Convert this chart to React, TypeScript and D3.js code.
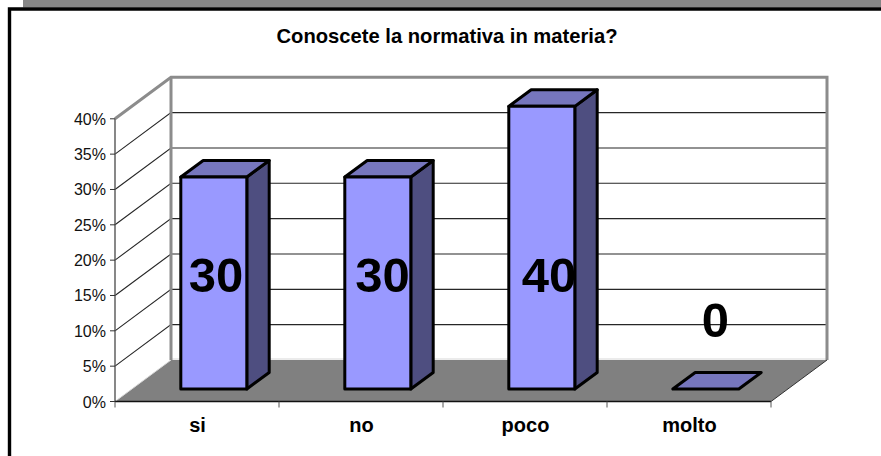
import React from "react";
import * as d3 from "d3";

const categories = ["si", "no", "poco", "molto"];
const values = [30, 30, 40, 0];
const ticks = [0, 5, 10, 15, 20, 25, 30, 35, 40];
const title = "Conoscete la normativa in materia?";

const FONT = "'Liberation Sans', Arial, sans-serif";
const x = d3.scaleBand<string>().domain(categories).range([115, 771]);
const labelX = d3.scalePoint<string>().domain(categories).range([216, 715.5]);
const y = d3.scaleLinear().domain([0, 40]).range([401.5, 118.8]);
const depth = { dx: 56, dy: -41.5 };
const barNear = 0.3;
const barFar = 0.7;
const barW = 66;
const line = d3.line<[number, number]>();

const at = (px: number, py: number, d: number): [number, number] => [px + depth.dx * d, py + depth.dy * d];

export default function App() {
  const x0 = x.range()[0];
  const x1 = x.range()[1];
  const y0 = y(0);
  const y40 = y(40);
  const floor = [at(x0, y0, 0), at(x1, y0, 0), at(x1, y0, 1), at(x0, y0, 1)] as [number, number][];
  return (
    <svg width={881} height={456} style={{ position: "absolute", left: 0, top: 0, display: "block", fontFamily: FONT }}>
      <rect width={881} height={456} fill="#fff" />
      <rect x={23} y={0} width={858} height={7.5} fill="#868686" />
      <path d="M9.5,456 V9 H881" fill="none" stroke="#000" strokeWidth={3.4} />
      <text x={447} y={43} textAnchor="middle" fontSize={20.2} fontWeight={700} fill="#000">{title}</text>

      {/* walls */}
      {ticks.slice(1).map((t) => {
        const a = at(x0, y(t), 0);
        const b = at(x0, y(t), 1);
        const c = at(x1, y(t), 1);
        return t === 40 ? null : (
          <path key={t} d={line([a, b, c]) ?? ""} fill="none" stroke="#000" strokeWidth={1.1} opacity={0.85} />
        );
      })}
      <path d={line(floor) ?? ""} fill="#808080" />
      <path d={line([at(x0, y0, 1), at(x1, y0, 1)]) ?? ""} stroke="#d8d8d8" strokeWidth={1.2} fill="none" transform="translate(0,-1)" />
      <path d={line([at(x0, y0, 0), at(x0, y0, 1)]) ?? ""} stroke="#d8d8d8" strokeWidth={1} fill="none" />
      <path
        d={line([at(x0, y40, 0), at(x0, y40, 1), at(x1, y40, 1), at(x1, y0, 1)]) ?? ""}
        fill="none"
        stroke="#8c8c8c"
        strokeWidth={3}
        strokeLinejoin="miter"
      />
      <path d={line([at(x0, y40, 1), at(x0, y0, 1)]) ?? ""} stroke="#8c8c8c" strokeWidth={3} fill="none" />
      <path d={line([at(x0, y0, 0), at(x0, y40, 0)]) ?? ""} stroke="#555" strokeWidth={1.4} fill="none" />
      <path d={line([at(x1, y0, 0), at(x1, y0, 1)]) ?? ""} stroke="#333" strokeWidth={1} fill="none" />

      {/* axes */}
      <path d={line([at(x0, y0, 0), at(x1, y0, 0)]) ?? ""} stroke="#111" strokeWidth={1.3} fill="none" />
      {ticks.map((t) => (
        <g key={t}>
          <path d={`M${x0 - 5},${y(t)}H${x0}`} stroke="#333" strokeWidth={1} />
          <text x={106} y={y(t) + 6} textAnchor="end" fontSize={16} fill="#111">{t}%</text>
        </g>
      ))}
      {[...categories.map((c) => x(c) as number), x1].map((tx) => (
        <path key={tx} d={`M${tx},${y0}V${y0 + 6}`} stroke="#555" strokeWidth={1} />
      ))}
      {categories.map((c) => (
        <text key={c} x={(x(c) as number) + x.bandwidth() / 2 + 0.5} y={432} textAnchor="middle" fontSize={20} fontWeight={700} fill="#000">{c}</text>
      ))}

      {/* bars */}
      {categories.map((c, i) => {
        const v = values[i];
        const mid = (x(c) as number) + x.bandwidth() / 2;
        const lx = mid - barW / 2;
        const rx = mid + barW / 2;
        const h = y(v) - y0;
        const p = (px: number, d: number, top: boolean) => at(px, y0 + (top ? h : 0), d);
        const front = [p(lx, barNear, false), p(rx, barNear, false), p(rx, barNear, true), p(lx, barNear, true)];
        const side = [p(rx, barNear, false), p(rx, barFar, false), p(rx, barFar, true), p(rx, barNear, true)];
        const topFace = [p(lx, barNear, true), p(rx, barNear, true), p(rx, barFar, true), p(lx, barFar, true)];
        const stroke = { stroke: "#000", strokeWidth: 3, strokeLinejoin: "round" as const };
        return (
          <g key={c}>
            {v > 0 && <path d={(line(side) ?? "") + "Z"} fill="#4e4e80" {...stroke} />}
            <path d={(line(topFace) ?? "") + "Z"} fill="#7676bd" {...stroke} />
            {v > 0 && <path d={(line(front) ?? "") + "Z"} fill="#9999ff" {...stroke} />}
            <text x={labelX(c)} y={v > 0 ? 291.5 : 337} textAnchor="middle" fontSize={49} fontWeight={700} fill="#000">{v}</text>
          </g>
        );
      })}
    </svg>
  );
}
